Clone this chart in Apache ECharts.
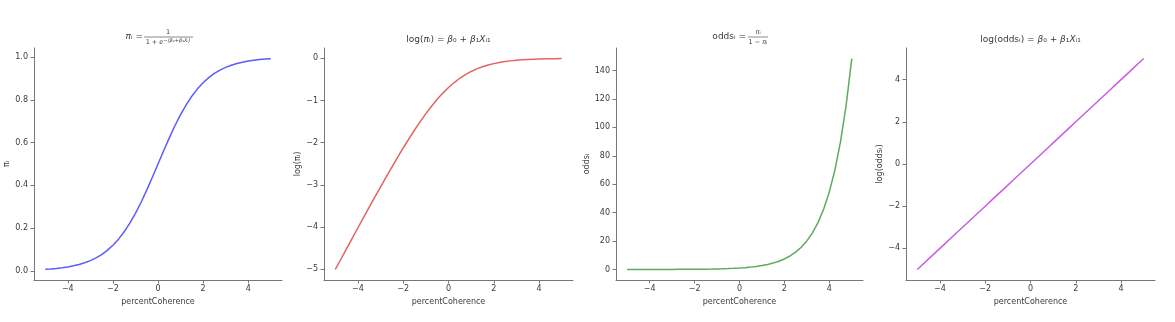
<!DOCTYPE html>
<html><head><meta charset="utf-8">
<script src="https://cdn.jsdelivr.net/npm/echarts@6/dist/echarts.min.js"></script>
<style>html,body{margin:0;padding:0;background:#fff}#c{width:1175px;height:322px}</style>
</head><body><div id="c"></div>
<script>
const xs = [-5,-4.75,-4.5,-4.25,-4,-3.75,-3.5,-3.25,-3,-2.75,-2.5,-2.25,-2,-1.75,-1.5,-1.25,-1,-0.75,-0.5,-0.25,0,0.25,0.5,0.75,1,1.25,1.5,1.75,2,2.25,2.5,2.75,3,3.25,3.5,3.75,4,4.25,4.5,4.75,5];
const piVals = [0.0067,0.0086,0.011,0.0141,0.018,0.023,0.0293,0.0373,0.0474,0.0601,0.0759,0.0954,0.1192,0.1481,0.1824,0.2227,0.2689,0.3208,0.3775,0.4378,0.5,0.5622,0.6225,0.6792,0.7311,0.7773,0.8176,0.8519,0.8808,0.9046,0.9241,0.9399,0.9526,0.9627,0.9707,0.977,0.982,0.9859,0.989,0.9914,0.9933];
const logPiVals = [-5.007,-4.759,-4.511,-4.264,-4.018,-3.773,-3.53,-3.288,-3.049,-2.812,-2.579,-2.35,-2.127,-1.91,-1.701,-1.502,-1.313,-1.137,-0.974,-0.826,-0.693,-0.576,-0.474,-0.387,-0.313,-0.252,-0.201,-0.16,-0.127,-0.1,-0.079,-0.062,-0.049,-0.038,-0.03,-0.023,-0.018,-0.014,-0.011,-0.009,-0.007];
const oddsVals = [0.007,0.009,0.011,0.014,0.018,0.024,0.03,0.039,0.05,0.064,0.082,0.105,0.135,0.174,0.223,0.287,0.368,0.472,0.607,0.779,1,1.284,1.649,2.117,2.718,3.49,4.482,5.755,7.389,9.488,12.18,15.64,20.09,25.79,33.12,42.52,54.6,70.11,90.02,115.6,148.4];
const logOddsVals = [-5,-4.75,-4.5,-4.25,-4,-3.75,-3.5,-3.25,-3,-2.75,-2.5,-2.25,-2,-1.75,-1.5,-1.25,-1,-0.75,-0.5,-0.25,0,0.25,0.5,0.75,1,1.25,1.5,1.75,2,2.25,2.5,2.75,3,3.25,3.5,3.75,4,4.25,4.5,4.75,5];
const xTicks = [-4,-2,0,2,4];
const yTicks1 = [0,0.2,0.4,0.6,0.8,1.0];
const yTicks2 = [-5,-4,-3,-2,-1,0];
const yTicks3 = [0,20,40,60,80,100,120,140];
const yTicks4 = [-4,-2,0,2,4];
const xName = 'percentCoherence';
const yNames = ['π\u1d62','log(π\u1d62)','odds\u1d62','log(odds\u1d62)'];

const FONT = 'DejaVu Sans';
const AX = '#777', TX = '#3a3a3a';
const minus = s => String(s).replace('-', '\u2212');

const grids = [
  {left:34, top:48, width:248, height:232},
  {left:324, top:48, width:249, height:232},
  {left:616, top:48, width:247, height:232},
  {left:906, top:48, width:249, height:232}
];
function xAx(i){
  return {type:'value', gridIndex:i, min:-5.5, max:5.5,
    axisLine:{onZero:false, lineStyle:{color:AX, width:1}},
    axisTick:{customValues:xTicks, length:3.5, lineStyle:{color:AX}},
    axisLabel:{customValues:xTicks, formatter:v=>minus(v), fontSize:8, color:TX, margin:5, fontFamily:FONT},
    splitLine:{show:false},
    name:xName, nameLocation:'middle', nameGap:16,
    nameTextStyle:{fontSize:8, color:TX, fontFamily:FONT}};
}
function yAx(i, min, max, ticks, fmt, gap){
  return {type:'value', gridIndex:i, min:min, max:max,
    axisLine:{show:true, onZero:false, lineStyle:{color:AX, width:1}},
    axisTick:{show:true, customValues:ticks, length:3.5, lineStyle:{color:AX}},
    axisLabel:{customValues:ticks, formatter:fmt, fontSize:8, color:TX, margin:6, fontFamily:FONT},
    splitLine:{show:false},
    name:yNames[i], nameLocation:'middle', nameGap:gap,
    nameTextStyle:{fontSize:8, color:TX, fontFamily:FONT}};
}
function ser(i, vals, color){
  return {type:'line', xAxisIndex:i, yAxisIndex:i, showSymbol:false, smooth:false,
    lineStyle:{color:color, width:1.5}, itemStyle:{color:color},
    data: xs.map((x,k)=>[x, vals[k]])};
}
const rich = {
  n:{fontSize:9, fontFamily:FONT, fill:TX, color:TX},
  i:{fontSize:9, fontFamily:FONT, fontStyle:'italic', fill:TX, color:TX},
  sn:{fontSize:6.5, fontFamily:FONT, fill:TX, color:TX},
  si:{fontSize:6.5, fontFamily:FONT, fontStyle:'italic', fill:TX, color:TX},
  sup:{fontSize:5, fontFamily:FONT, fontStyle:'italic', fill:TX, color:TX, verticalAlign:'top'}
};
function txt(x, y, text, align){
  return {type:'text', x:x, y:y, silent:true,
    style:{text:text, align:align, verticalAlign:'middle', fill:TX, font:'9px "DejaVu Sans"', rich:rich}};
}
const graphic = [
  txt(143, 37, '{i|π}{n|\u1d62 =}', 'right'),
  txt(168, 32, '{sn|1}', 'center'),
  {type:'line', silent:true, shape:{x1:144, y1:37, x2:193, y2:37}, style:{stroke:TX, lineWidth:0.6}},
  txt(168, 42, '{sn|1 + }{si|e}{sup|\u2212(β₀+β₁X\u1d62)}', 'center'),
  txt(448.5, 40, '{n|log(}{i|π}{n|\u1d62) = }{i|β}{n|₀ + }{i|β}{n|₁}{i|X}{n|\u1d62₁}', 'center'),
  txt(746, 37, '{n|odds\u1d62 =}', 'right'),
  txt(758, 32, '{si|π}{sn|\u1d62}', 'center'),
  {type:'line', silent:true, shape:{x1:748, y1:37, x2:768, y2:37}, style:{stroke:TX, lineWidth:0.6}},
  txt(758, 42, '{sn|1 \u2212 }{si|π}{sn|\u1d62}', 'center'),
  txt(1030.5, 40, '{n|log(odds\u1d62) = }{i|β}{n|₀ + }{i|β}{n|₁}{i|X}{n|\u1d62₁}', 'center')
];
const chart = echarts.init(document.getElementById('c'), null, {renderer:'canvas'});
chart.setOption({
  animation:false,
  backgroundColor:'#fff',
  grid: grids,
  xAxis: [xAx(0), xAx(1), xAx(2), xAx(3)],
  yAxis: [
    yAx(0, -0.0433, 1.0433, yTicks1, v=>v.toFixed(1), 23),
    yAx(1, -5.2567, 0.2433, yTicks2, v=>minus(v), 20),
    yAx(2, -7.414, 155.83, yTicks3, v=>minus(v), 25),
    yAx(3, -5.5, 5.5, yTicks4, v=>minus(v), 20)
  ],
  series: [
    ser(0, piVals, '#5b5bff'),
    ser(1, logPiVals, '#e36363'),
    ser(2, oddsVals, '#5ea95e'),
    ser(3, logOddsVals, '#c95ee0')
  ],
  graphic: graphic
});
</script>
</body></html>
